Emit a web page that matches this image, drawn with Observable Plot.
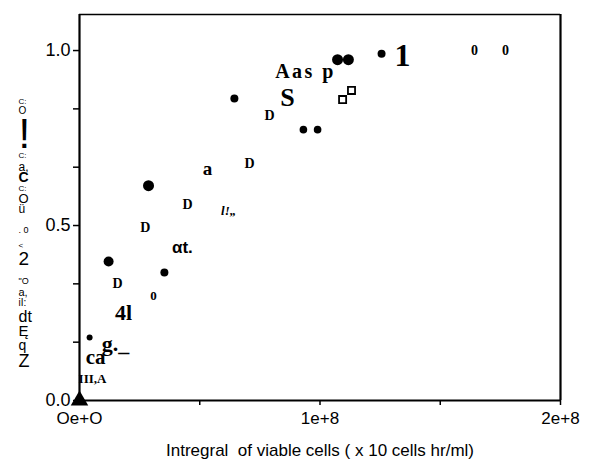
<!DOCTYPE html>
<html><head><meta charset="utf-8">
<script src="https://cdn.jsdelivr.net/npm/d3@7"></script>
<script src="https://cdn.jsdelivr.net/npm/@observablehq/plot@0.6"></script>
<style>body{margin:0;background:#fff}</style>
</head><body><div id="chart"></div>
<script>
// filled circles
const dotX = [1.21e7, 2.87e7, 6.44e7, 9.31e7, 9.90e7, 1.073e8, 1.118e8, 1.256e8, 3.53e7, 4.2e6];
const dotY = [0.397, 0.614, 0.863, 0.774, 0.774, 0.974, 0.974, 0.991, 0.366, 0.18];
const dotR = [5, 5.5, 4, 3.8, 3.8, 5.5, 5.5, 4, 4, 3];
// open squares
const sqX = [1.094e8, 1.131e8];
const sqY = [0.86, 0.886];
// triangle at origin
const triX = [0];
const triY = [0];
// scanned text fragments inside the plot
const labText = ["1", "0", "0", "S", "Aas p", "D", "D", "a", "D", "l!\u201E", "D", "\u03B1t.", "D", "0", "4l", "g._", "ca", "III,A"];
const labX = [1.343e8, 1.642e8, 1.771e8, 0.865e8, 0.94e8, 0.79e8, 0.707e8, 0.532e8, 0.449e8, 0.62e8, 0.274e8, 0.428e8, 0.158e8, 0.308e8, 0.183e8, 0.15e8, 0.067e8, 0.054e8];
const labY = [0.986, 1.0, 1.0, 0.866, 0.94, 0.814, 0.677, 0.663, 0.56, 0.543, 0.494, 0.437, 0.334, 0.30, 0.249, 0.163, 0.123, 0.063];
const labSize = [32, 14, 14, 26, 20, 14, 14, 19, 14, 13, 14, 17, 14, 13, 22, 22, 21, 13];
const labFace = ["serif", "serif", "serif", "serif", "serif", "serif", "serif", "serif", "serif", "italic", "serif", "sans", "serif", "serif", "serif", "serif", "serif", "serif"];
// scanned y-axis title fragments (top to bottom)
const yFrag = ["C:", "O", "!", "C:", "a,", "C", "C:", "O", "\u00FC", ". 0", "<", "2", "\"O", "a,", "iI:", "dt", "\u0118", "q", "Z"];
const yFragY = [0.854, 0.829, 0.760, 0.700, 0.666, 0.637, 0.606, 0.577, 0.546, 0.486, 0.443, 0.406, 0.340, 0.309, 0.280, 0.240, 0.197, 0.157, 0.111];
const yFragSize = [8, 10, 42, 8, 12, 14, 8, 13, 12, 9, 8, 19, 9, 11, 10, 16, 15, 14, 18];
// axes
const yTicks = [0, 1/6, 2/6, 0.5, 4/6, 5/6, 1];
const yTickLabels = ["0.0", "", "", "0.5", "", "", "1.0"];
const xTicks = [0, 5e7, 1e8, 1.5e8, 2e8];
const xTickLabels = ["Oe+O", "", "1e+8", "", "2e+8"];
const xTitle = "Intregral  of viable cells ( x 10 cells hr/ml)";

const dots = dotX.map((x, i) => ({x, y: dotY[i], r: dotR[i]}));
const squares = sqX.map((x, i) => ({x, y: sqY[i]}));
const tris = triX.map((x, i) => ({x, y: triY[i]}));
const labs = labText.map((t, i) => ({t, x: labX[i], y: labY[i], s: labSize[i], f: labFace[i]}));
const frags = yFrag.map((t, i) => ({t, y: yFragY[i], s: yFragSize[i]}));
const yMap = new Map(yTicks.map((d, i) => [d, yTickLabels[i]]));
const xMap = new Map(xTicks.map((d, i) => [d, xTickLabels[i]]));

const chart = Plot.plot({
  width: 597, height: 460,
  marginLeft: 79, marginRight: 37, marginTop: 14, marginBottom: 60,
  x: {domain: [0, 2e8]},
  y: {domain: [0, 1.103]},
  r: {type: "identity"},
  style: {fontFamily: "'Liberation Sans', sans-serif", background: "#fff", color: "#000"},
  marks: [
    Plot.ruleX([0, 2e8], {strokeWidth: 2.2}),
    Plot.ruleY([0], {strokeWidth: 2}),
    Plot.ruleY([1.103], {strokeWidth: 1.5}),
    Plot.axisY(yTicks, {tickSize: 6, tickPadding: 3, strokeWidth: 1.5, fontSize: 18, label: null, tickFormat: d => yMap.get(d) ?? ""}),
    Plot.axisX(xTicks, {tickSize: 5, tickPadding: 6, strokeWidth: 1.5, fontSize: 17, label: null, tickFormat: d => xMap.get(d) ?? ""}),
    Plot.text([xTitle], {frameAnchor: "bottom", dy: 50, fontSize: 17, lineAnchor: "middle"}),
    Plot.text(frags.filter(d => d.t !== "C"), {frameAnchor: "left", dx: -61, y: "y", text: "t", fontSize: "s"}),
    Plot.text(frags.filter(d => d.t === "C"), {frameAnchor: "left", dx: -61, y: "y", text: "t", fontSize: "s", fontWeight: "bold"}),
    Plot.dot(dots, {x: "x", y: "y", r: "r", fill: "black"}),
    Plot.dot(squares, {x: "x", y: "y", r: 4, symbol: "square", stroke: "black", strokeWidth: 1.8, fill: "white"}),
    Plot.dot(tris, {x: "x", y: "y", r: 6.5, symbol: "triangle", fill: "black"}),
    Plot.text(labs.filter(d => d.f === "serif"), {x: "x", y: "y", text: "t", fontSize: "s", fontFamily: "'Liberation Serif', serif", fontWeight: "bold"}),
    Plot.text(labs.filter(d => d.f === "italic"), {x: "x", y: "y", text: "t", fontSize: "s", fontFamily: "'Liberation Serif', serif", fontWeight: "bold", fontStyle: "italic"}),
    Plot.text(labs.filter(d => d.f === "sans"), {x: "x", y: "y", text: "t", fontSize: "s", fontFamily: "'Liberation Sans', sans-serif", fontWeight: "bold"})
  ]
});
d3.select(chart).selectAll("text").filter(function() { return this.textContent === "Aas p"; }).attr("letter-spacing", 2.5);
document.getElementById("chart").appendChild(chart);
</script>
</body></html>
